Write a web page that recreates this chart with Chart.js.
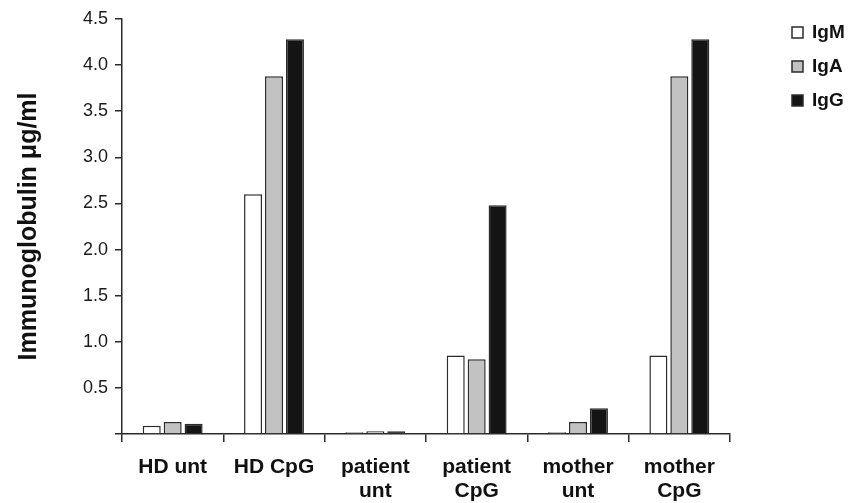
<!DOCTYPE html>
<html>
<head>
<meta charset="utf-8">
<script src="https://cdn.jsdelivr.net/npm/chart.js@4.4.1/dist/chart.umd.min.js"></script>
<style>
  html, body { margin: 0; padding: 0; background: #fff; }
  #wrap { width: 861px; height: 503px; }
</style>
</head>
<body>
<div id="wrap"><canvas id="chart"></canvas></div>
<script>
// data
const categories = ["HD unt", "HD CpG", ["patient", "unt"], ["patient", "CpG"], ["mother", "unt"], ["mother", "CpG"]];
const igM = [0.09, 2.60, 0.02, 0.85, 0.02, 0.85];
const igA = [0.13, 3.88, 0.03, 0.81, 0.13, 3.88];
const igG = [0.11, 4.28, 0.03, 2.48, 0.28, 4.28];
const yTicks = [0, 0.5, 1.0, 1.5, 2.0, 2.5, 3.0, 3.5, 4.0, 4.5];

const edge = "#2b2b2b";
const font = "'Liberation Sans', Arial, Helvetica, sans-serif";

// legend drawn by hand, to the right of the plot
const sideLegend = {
  id: "sideLegend",
  afterDraw(chart) {
    const ctx = chart.ctx;
    const x = chart.chartArea.right + 62;
    let y = 33;
    ctx.save();
    chart.data.datasets.forEach(ds => {
      ctx.fillStyle = ds.backgroundColor;
      ctx.strokeStyle = edge;
      ctx.lineWidth = 1.5;
      ctx.fillRect(x, y - 6, 11, 11);
      ctx.strokeRect(x, y - 6, 11, 11);
      ctx.fillStyle = "#111";
      ctx.font = "bold 19px " + font;
      ctx.textBaseline = "middle";
      ctx.fillText(ds.label, x + 20, y);
      y += 34;
    });
    ctx.restore();
  }
};

new Chart(document.getElementById("chart"), {
  type: "bar",
  data: {
    labels: categories,
    datasets: [
      { label: "IgM", data: igM, backgroundColor: "#ffffff" },
      { label: "IgA", data: igA, backgroundColor: "#c2c2c2" },
      { label: "IgG", data: igG, backgroundColor: "#141414" }
    ].map(d => Object.assign(d, {
      borderColor: edge, borderWidth: 1.5,
      categoryPercentage: 0.62, barPercentage: 0.86
    }))
  },
  options: {
    responsive: true,
    maintainAspectRatio: false,
    animation: false,
    layout: { padding: { top: 19, right: 131, left: 14, bottom: 0 } },
    plugins: { legend: { display: false }, tooltip: { enabled: false } },
    scales: {
      x: {
        afterFit: s => { s.height = 69; },
        grid: { display: true, drawOnChartArea: false, tickLength: 8, color: edge, lineWidth: 1.5 },
        border: { color: edge, width: 1.5 },
        ticks: {
          color: "#111", padding: 13, maxRotation: 0, autoSkip: false,
          font: { family: font, size: 21, weight: "bold", lineHeight: 1.15 }
        }
      },
      y: {
        min: 0, max: 4.5,
        afterFit: s => { s.width = 108; },
        afterBuildTicks: s => { s.ticks = yTicks.map(v => ({ value: v })); },
        grid: { display: true, drawOnChartArea: false, tickLength: 7, color: edge, lineWidth: 1.5 },
        border: { color: edge, width: 1.5 },
        ticks: {
          color: "#1a1a1a", padding: 7,
          font: { family: font, size: 18 },
          callback: v => v === 0 ? "" : v.toFixed(1)
        },
        title: {
          display: true, text: "Immunoglobulin \u03bcg/ml", color: "#111",
          font: { family: font, size: 25, weight: "bold" }, padding: { top: 0, bottom: 10 }
        }
      }
    }
  },
  plugins: [sideLegend]
});
</script>
</body>
</html>
